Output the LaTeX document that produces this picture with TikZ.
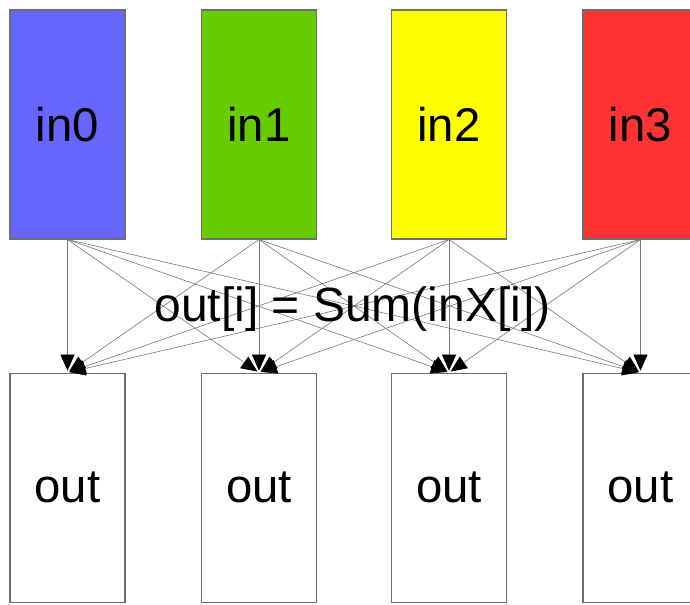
\documentclass[tikz,border=0pt]{standalone}
\usepackage{fontspec}
\setmainfont{Liberation Sans}
\usetikzlibrary{arrows.meta}
\definecolor{cin0}{RGB}{102,102,255}
\definecolor{cin1}{RGB}{102,204,0}
\definecolor{cin2}{RGB}{255,255,0}
\definecolor{cin3}{RGB}{255,51,51}
\definecolor{boxline}{RGB}{110,110,110}
\definecolor{edgeline}{RGB}{120,120,120}
\begin{document}
\begin{tikzpicture}[x=0.75pt,y=-0.75pt,
  cell/.style={draw=boxline, line width=0.8pt, rectangle, inner sep=0pt,
    minimum width=86.25pt, minimum height=171.75pt,
    font=\fontsize{35.5}{42}\selectfont, text=black},
  link/.style={draw=edgeline, line width=0.45pt,
    -{Triangle[length=12pt,width=10.5pt,fill=black,color=black]}, shorten >=1.5pt}]
\clip (0,0) rectangle (690,605);
\fill[white] (0,0) rectangle (690,605);
\node[cell, fill=cin0] (in0) at (67.5,124.5) {in0};
\node[cell, fill=cin1] (in1) at (259,124.5) {in1};
\node[cell, fill=cin2] (in2) at (449,124.5) {in2};
\node[cell, fill=cin3] (in3) at (640.5,124.5) {in3};
\node[cell, fill=white] (out0) at (67.5,487.7) {out};
\node[cell, fill=white] (out1) at (259,487.7) {out};
\node[cell, fill=white] (out2) at (449,487.7) {out};
\node[cell, fill=white] (out3) at (640.5,487.7) {out};
\foreach \a in {0,1,2,3}{
  \foreach \b in {0,1,2,3}{
    \draw[link] (in\a.south) -- (out\b.north);
  }
}
\node[anchor=base, inner sep=0pt, font=\fontsize{36}{43}\selectfont, text=black] (label) at (352.5,322) {out[i] = Sum(inX[i])};
\end{tikzpicture}
\end{document}
